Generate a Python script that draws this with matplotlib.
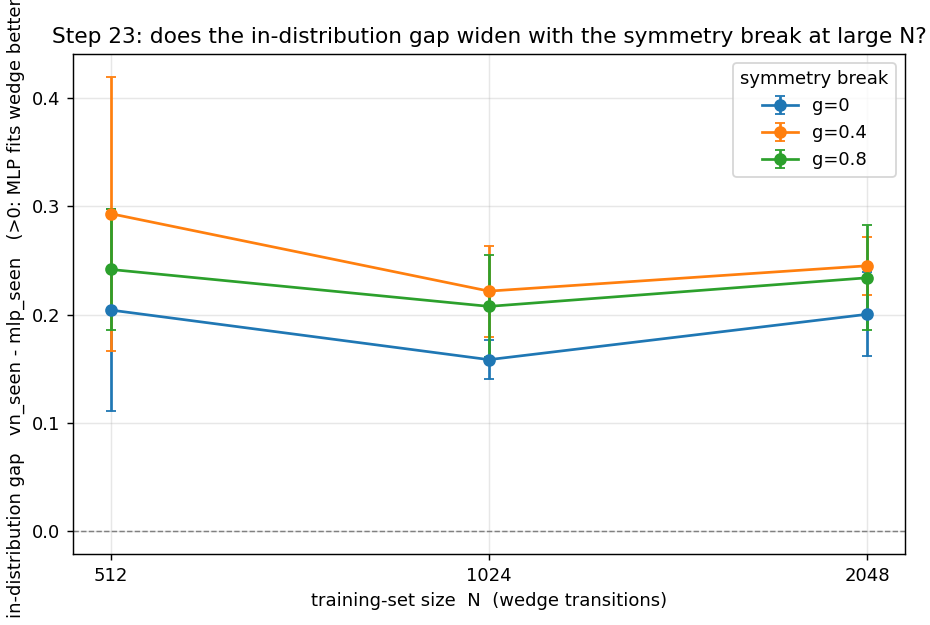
import matplotlib
matplotlib.use("Agg")
import matplotlib.pyplot as plt

sizes = [512, 1024, 2048]
gammas = ["g=0", "g=0.4", "g=0.8"]
gap_mean = {
    "g=0": [0.2043, 0.1585, 0.2004],
    "g=0.4": [0.2933, 0.2218, 0.2452],
    "g=0.8": [0.2418, 0.2077, 0.2341],
}
gap_err = {
    "g=0": [0.0929, 0.0180, 0.0389],
    "g=0.4": [0.1265, 0.0420, 0.0266],
    "g=0.8": [0.0560, 0.0470, 0.0484],
}

fig, ax = plt.subplots(figsize=(930 / 130, 625 / 130), dpi=130)
fig.subplots_adjust(left=0.0785, right=0.973, bottom=0.1136, top=0.9136)

for g in gammas:
    ax.errorbar(sizes, gap_mean[g], yerr=gap_err[g], marker="o", capsize=3, label=g)

ax.axhline(0, color="gray", ls="--", lw=0.8)
ax.set_xscale("log", base=2)
ax.set_xticks(sizes)
ax.set_xticklabels([str(s) for s in sizes])
ax.minorticks_off()
ax.set_xlabel("training-set size  N  (wedge transitions)")
ax.set_ylabel("in-distribution gap   vn_seen - mlp_seen   (>0: MLP fits wedge better)")
ax.set_title("Step 23: does the in-distribution gap widen with the symmetry break at large N?")
ax.grid(alpha=0.3)
ax.legend(title="symmetry break", loc="upper right")

fig.savefig("out.png")
